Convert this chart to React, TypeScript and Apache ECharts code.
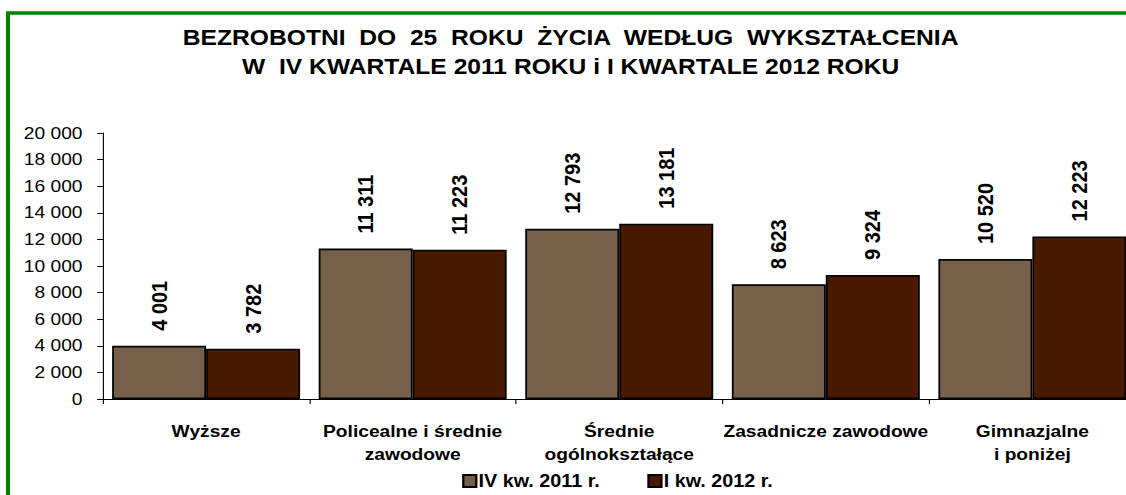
import React, { useEffect, useRef } from "react";
import * as echarts from "echarts";

const categories = [
  "Wyższe",
  "Policealne i średnie\nzawodowe",
  "Średnie\nogólnokształące",
  "Zasadnicze zawodowe",
  "Gimnazjalne\ni poniżej",
];
const seriesNames = ["IV kw. 2011 r.", "I kw. 2012 r."];
const values2011 = [4001, 11311, 12793, 8623, 10520];
const values2012 = [3782, 11223, 13181, 9324, 12223];
const titleLines = [
  "BEZROBOTNI  DO  25  ROKU  ŻYCIA  WEDŁUG  WYKSZTAŁCENIA",
  "W  IV KWARTALE 2011 ROKU i I KWARTALE 2012 ROKU",
];

const fmt = (v: number) => String(v).replace(/\B(?=(\d{3})+(?!\d))/g, " ");
const FONT = "'Liberation Sans', Arial, sans-serif";
const SX = 1.13;

export default function App() {
  const ref = useRef<HTMLDivElement>(null);
  useEffect(() => {
    if (!ref.current) return;
    const chart = echarts.init(ref.current, null, { renderer: "svg" });
    const label = {
      show: true,
      position: "top",
      rotate: 90,
      align: "left",
      verticalAlign: "middle",
      distance: 15,
      fontFamily: FONT,
      fontWeight: "bold",
      fontSize: 20,
      color: "#000",
      formatter: (p: any) => fmt(p.value),
    };
    chart.setOption({
      animation: false,
      backgroundColor: "#fff",
      title: {
        text: titleLines.join("\n"),
        left: "center",
        top: 18,
        textStyle: {
          fontFamily: FONT,
          fontWeight: "bold",
          fontSize: 21.8,
          lineHeight: 29,
          color: "#000",
        },
      },
      graphic: [
        {
          type: "rect",
          shape: { x: 7.1, y: 13, width: 1200, height: 700 },
          style: { fill: "none", stroke: "#008000", lineWidth: 3.6 },
          silent: true,
        },
      ],
      legend: {
        data: seriesNames,
        left: 404,
        top: 466,
        icon: "rect",
        itemWidth: 11.5,
        itemHeight: 12,
        itemGap: 42,
        textStyle: {
          fontFamily: FONT,
          fontWeight: "bold",
          fontSize: 17.5,
          lineHeight: 20,
          color: "#000",
          padding: [0, 0, 0, -3],
        },
      },
      grid: { left: 91, right: 5, top: 133, bottom: 96, containLabel: false },
      xAxis: {
        type: "category",
        data: categories,
        axisLine: { lineStyle: { color: "#000", width: 1 } },
        axisTick: { show: true, length: 5, lineStyle: { color: "#000" } },
        axisLabel: {
          interval: 0,
          margin: 21,
          fontFamily: FONT,
          fontWeight: "bold",
          fontSize: 17,
          lineHeight: 23,
          color: "#000",
          verticalAlign: "top",
        },
      },
      yAxis: {
        type: "value",
        min: 0,
        max: 20000,
        interval: 2000,
        axisLine: { show: true, lineStyle: { color: "#000", width: 1 } },
        axisTick: { show: true, length: 5, lineStyle: { color: "#000" } },
        splitLine: { show: false },
        axisLabel: {
          margin: 18,
          fontFamily: FONT,
          fontSize: 17,
          color: "#000",
          formatter: (v: number) => fmt(v),
        },
      },
      series: [
        {
          name: seriesNames[0],
          type: "bar",
          data: values2011,
          barGap: "0%",
          barCategoryGap: "9%",
          itemStyle: { color: "#776049", borderColor: "#000", borderWidth: 1.6 },
          label,
        },
        {
          name: seriesNames[1],
          type: "bar",
          data: values2012,
          barGap: "0%",
          barCategoryGap: "9%",
          itemStyle: { color: "#481a00", borderColor: "#000", borderWidth: 1.6 },
          label,
        },
      ],
    });
    return () => chart.dispose();
  }, []);
  return (
    <div
      style={{
        position: "fixed",
        left: 0,
        top: 0,
        width: 1126,
        height: 495,
        overflow: "hidden",
        background: "#fff",
      }}
    >
      <div
        ref={ref}
        style={{
          position: "absolute",
          left: 0,
          top: 0,
          width: 1010,
          height: 495,
          transform: `scaleX(${SX})`,
          transformOrigin: "0 0",
        }}
      />
    </div>
  );
}
